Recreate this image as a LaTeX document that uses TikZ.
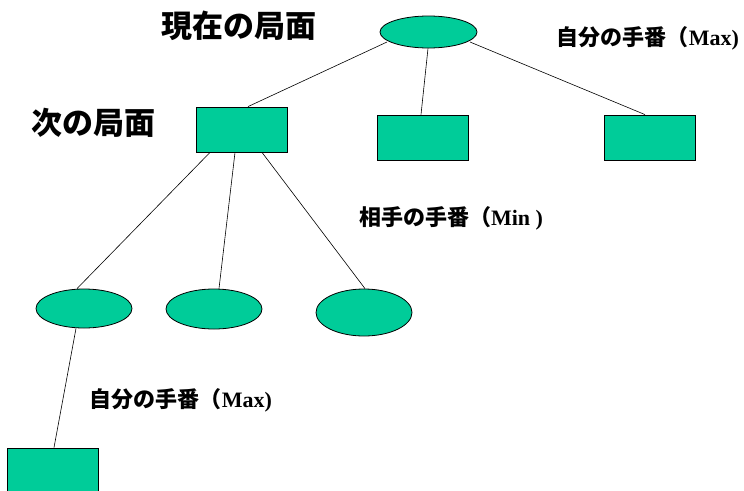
\documentclass[tikz,border=0pt]{standalone}
\usepackage{fontspec}
\setmainfont{Liberation Serif}
\newfontfamily\jp{Noto Sans CJK JP}
\usetikzlibrary{shapes.geometric,calc}
\definecolor{nodegreen}{RGB}{0,204,153}
\tikzset{
  ovalnode/.style={ellipse,draw=black,line width=0.8pt,fill=nodegreen,inner sep=0pt,minimum width=96pt},
  boxnode/.style={rectangle,draw=black,line width=0.8pt,fill=nodegreen,inner sep=0pt,minimum width=91pt,minimum height=45pt},
  edge/.style={draw=black,line width=0.6pt},
  biglabel/.style={font=\jp\bfseries\fontsize{31}{36}\selectfont,inner sep=0pt},
  turnlabel/.style={font=\bfseries\fontsize{22}{26}\selectfont,inner sep=0pt}
}
\begin{document}
\begin{tikzpicture}[x=1pt,y=-1pt]
\useasboundingbox (0,0) rectangle (744,490);
\clip (0,0) rectangle (744,490);
% nodes
\node[ovalnode,minimum width=97pt,minimum height=32pt] (top) at (428.5,32) {};
\node[boxnode] (r1) at (241.5,129.5) {};
\node[boxnode] (r2) at (422.5,137.5) {};
\node[boxnode] (r3) at (649.5,137.5) {};
\node[ovalnode,minimum height=39pt] (e1) at (84,308.5) {};
\node[ovalnode,minimum height=40pt] (e2) at (214,309) {};
\node[ovalnode,minimum height=47pt] (e3) at (364,312.5) {};
\node[boxnode] (r4) at (52.5,470.5) {};
% connectors
\draw[edge] ($(top.center)+(-41.5,10)$) -- ($(r1.north)+(6.5,0)$);
\draw[edge] ($(top.south)+(-0.5,0)$) -- ($(r2.north)+(-1.5,0)$);
\draw[edge] ($(top.center)+(41.5,10)$) -- ($(r3.north)+(-4.5,0)$);
\draw[edge] ($(r1.south)+(-31.5,0)$) -- ($(e1.north)+(-7,0)$);
\draw[edge] ($(r1.south)+(-6.5,0)$) -- ($(e2.north)+(5,0)$);
\draw[edge] ($(r1.south)+(20.5,0)$) -- ($(e3.north)+(1,0)$);
\draw[edge] ($(e1.south)+(-8,0)$) -- ($(r4.north)+(1.5,0)$);
% labels
\node[biglabel] (lcur) at (239,26) {現在の局面};
\node[biglabel] (lnext) at (93,123) {次の局面};
\node[turnlabel] (lmax1) at (648,38) {{\jp 自分の手番（}Max)};
\node[turnlabel] (lmin) at (451,218) {{\jp 相手の手番（}Min )};
\node[turnlabel] (lmax2) at (181,400) {{\jp 自分の手番（}Max)};
\end{tikzpicture}
\end{document}
